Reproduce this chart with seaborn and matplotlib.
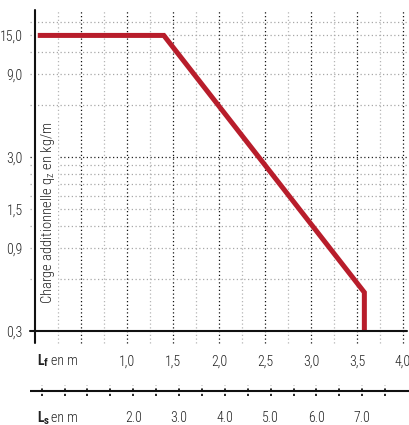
import matplotlib
matplotlib.use("Agg")
import matplotlib.pyplot as plt
from matplotlib import font_manager
from matplotlib.lines import Line2D
import numpy as np
import pandas as pd
import seaborn as sns

# Load curve: span Lf (m) vs additional load qz (kg/m)
lf_values = [0.03, 1.4, 3.58, 3.58]
qz_values = [15.0, 15.0, 0.5, 0.3]

# Lf axis
lf_ticks = [1.0, 1.5, 2.0, 2.5, 3.0, 3.5, 4.0]
lf_labels = ["1,0", "1,5", "2,0", "2,5", "3,0", "3,5", "4,0"]
lf_major_grid = [0.5, 1.0, 1.5, 2.0, 2.5, 3.0, 3.5, 4.0]
lf_minor_grid = [0.25, 0.75, 1.25, 1.75, 2.25, 2.75, 3.25, 3.75]

# qz axis (log)
qz_ticks = [0.3, 0.9, 1.5, 3.0, 9.0, 15.0]
qz_labels = ["0,3", "0,9", "1,5", "3,0", "9,0", "15,0"]
qz_grid = [0.6, 0.9, 1.2, 1.5, 1.8, 2.1, 2.4, 2.7, 6.0, 9.0, 12.0, 15.0, 18.0]
qz_major_grid = [3.0]

# Ls axis
ls_ticks = [0, 0.5, 1, 1.5, 2, 2.5, 3, 3.5, 4, 4.5, 5, 5.5, 6, 6.5, 7, 7.5]
ls_label_pos = [2, 3, 4, 5, 6, 7]
ls_labels = ["2.0", "3.0", "4.0", "5.0", "6.0", "7.0"]

sns.set_theme(style="white")

available = {f.name for f in font_manager.fontManager.ttflist}
family = "DejaVu Sans"
for cand in ["Roboto Condensed", "Liberation Sans Narrow", "Open Sans Condensed",
             "Noto Sans Condensed", "DejaVu Sans Condensed", "Roboto"]:
    if cand in available:
        family = cand
        break
plt.rcParams["font.family"] = [family, "DejaVu Sans"]
plt.rcParams["font.weight"] = "light"
plt.rcParams["mathtext.fontset"] = "custom"
plt.rcParams["mathtext.rm"] = family + ":light"
plt.rcParams["mathtext.bf"] = family + ":bold"
plt.rcParams["mathtext.it"] = family + ":light"

W, H = 409, 425
fig = plt.figure(figsize=(W / 100, H / 100), dpi=100)
ax = fig.add_axes([35 / W, (H - 331) / H, 368 / W, 321 / H])

RED = "#b81d2b"
TXT = "#222222"
FS = 10

df = pd.DataFrame({"Lf": lf_values, "qz": qz_values})

ax.set_yscale("log")
ax.set_xlim(0, 4.0)
ax.set_ylim(0.3, 21.0)

# grid lines (extend slightly past the axes)
ax.vlines(lf_minor_grid, -0.037, 1, transform=ax.get_xaxis_transform(),
          colors="#b5b5b5", linestyles=(0, (1, 2)), linewidth=0.9, clip_on=False, zorder=1)
ax.vlines(lf_major_grid, -0.037, 1, transform=ax.get_xaxis_transform(),
          colors="#111111", linestyles=(0, (1, 2)), linewidth=0.9, clip_on=False, zorder=1)
ax.hlines(qz_grid, -0.014, 1.012, transform=ax.get_yaxis_transform(),
          colors="#a8a8a8", linestyles=(0, (1, 2)), linewidth=0.9, clip_on=False, zorder=1)
ax.hlines(qz_major_grid, -0.014, 1.012, transform=ax.get_yaxis_transform(),
          colors="#222222", linestyles=(0, (1, 2)), linewidth=0.9, clip_on=False, zorder=1)

sns.lineplot(data=df, x="Lf", y="qz", ax=ax, color=RED, linewidth=3.6,
             estimator=None, sort=False, zorder=3)
for l in ax.lines:
    l.set_solid_capstyle("butt")
    l.set_solid_joinstyle("miter")

for s in ax.spines.values():
    s.set_visible(False)
ax.add_line(Line2D([0, 0], [-0.037, 1], transform=ax.transAxes, color="#111111",
                   linewidth=1.5, clip_on=False, zorder=4))
ax.add_line(Line2D([-0.014, 1.012], [0, 0], transform=ax.transAxes, color="#111111",
                   linewidth=1.5, clip_on=False, zorder=4))

ax.set_xticks(lf_ticks)
ax.set_xticklabels(lf_labels)
ax.set_yticks(qz_ticks)
ax.set_yticklabels(qz_labels)
ax.yaxis.set_minor_locator(matplotlib.ticker.NullLocator())
ax.tick_params(axis="x", length=0, pad=17, labelsize=FS, labelcolor=TXT)
ax.tick_params(axis="y", length=0, pad=9, labelsize=FS, labelcolor=TXT)
ax.set_xlabel("")
ax.set_ylabel("")

ax.text(0.035, 0.368, "Charge additionnelle q$_\\mathregular{z}$ en kg/m", rotation=90,
        transform=ax.transAxes, ha="center", va="center", fontsize=10.5, color=TXT,
        bbox=dict(facecolor="white", edgecolor="none", pad=1.0), zorder=5)


def scale_name(y_px, sub):
    """Axis caption such as 'Lf en m': bold L, small bold index, light unit."""
    base = 1 - y_px / H
    fig.text(37 / W, base, "L", ha="left", va="baseline", fontsize=FS,
             fontweight="bold", color=TXT)
    fig.text(44 / W, base - 1.5 / H, sub, ha="left", va="baseline", fontsize=7.8,
             fontweight="bold", color=TXT)
    fig.text(51 / W, base, "en m", ha="left", va="baseline", fontsize=FS, color=TXT)


scale_name(365, "f")

# Ls scale
ax2 = fig.add_axes([30 / W, (H - 396) / H, 379 / W, 11 / H])
ax2.set_xlim(-0.255, 8.02)
ax2.set_ylim(0, 1)
ax2.axhline(0.5, color="#111111", linewidth=1.5)
ax2.vlines(ls_ticks, 0, 1, colors="#111111", linestyles=(0, (1.2, 1.8)), linewidth=1.3)
for s in ax2.spines.values():
    s.set_visible(False)
ax2.set_yticks([])
ax2.set_xticks(ls_label_pos)
ax2.set_xticklabels(ls_labels)
ax2.tick_params(axis="x", length=0, pad=11, labelsize=FS, labelcolor=TXT)
ax2.patch.set_alpha(0)

scale_name(422, "s")

fig.savefig("out.png", dpi=100)
